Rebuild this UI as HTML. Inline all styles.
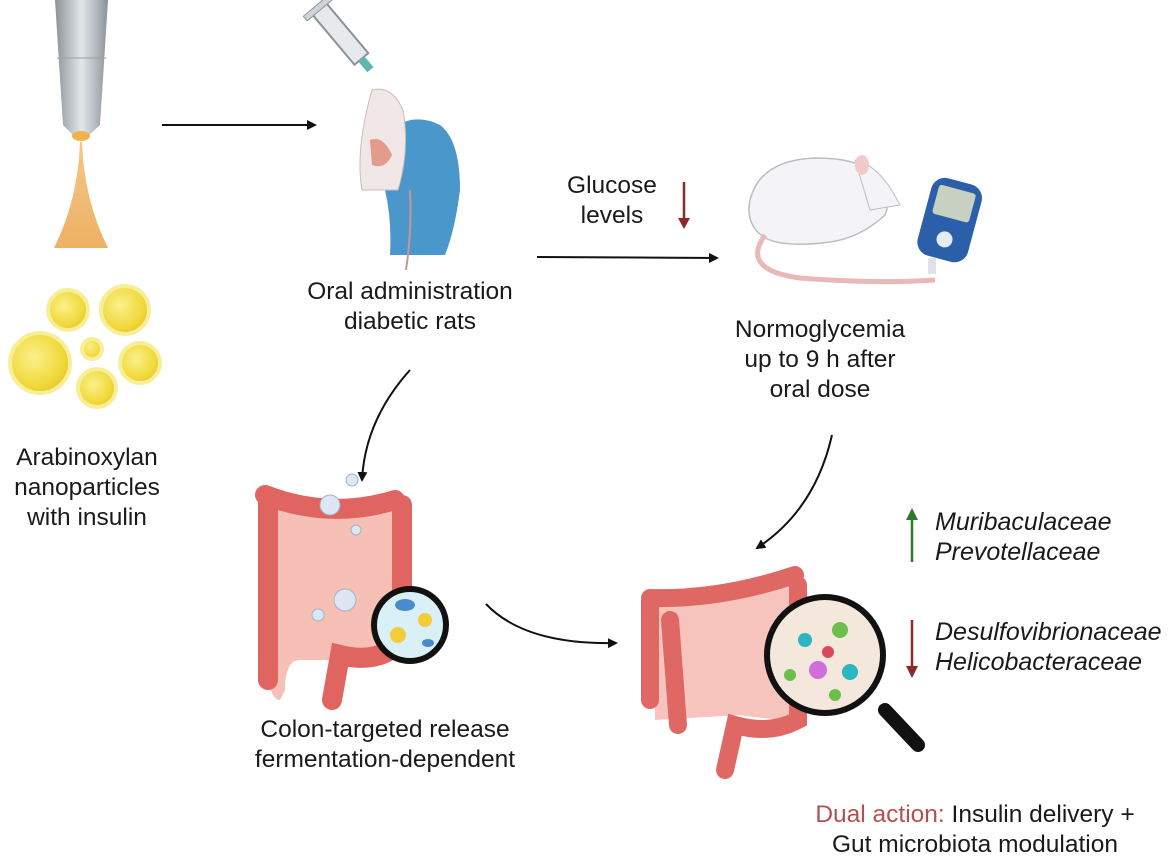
<!DOCTYPE html>
<html><head><meta charset="utf-8"><style>
html,body{margin:0;padding:0;background:#fff;}
body{width:1176px;height:860px;position:relative;overflow:hidden;font-family:"Liberation Sans",sans-serif;color:#1a1a1a;}
.t{position:absolute;font-size:24.5px;line-height:30px;text-align:center;white-space:nowrap;}
.i{position:absolute;font-size:25px;line-height:30px;font-style:italic;white-space:nowrap;}
svg{position:absolute;left:0;top:0;}
</style></head><body>
<svg width="1176" height="860" viewBox="0 0 1176 860">
<defs>
<marker id="ah" markerWidth="10" markerHeight="10" refX="8" refY="5" orient="auto" markerUnits="userSpaceOnUse"><path d="M0,0 L10,5 L0,10 z" fill="#111"/></marker>
<radialGradient id="yb" cx="0.4" cy="0.4" r="0.6"><stop offset="0" stop-color="#fbf08a"/><stop offset="0.8" stop-color="#f0d93a"/><stop offset="1" stop-color="#e9cc2a"/></radialGradient>
<linearGradient id="ndl" x1="0" x2="1"><stop offset="0" stop-color="#8a9299"/><stop offset="0.5" stop-color="#e3e7ea"/><stop offset="1" stop-color="#8a9299"/></linearGradient>
<linearGradient id="cone" x1="0" y1="0" x2="0" y2="1"><stop offset="0" stop-color="#f3c27a"/><stop offset="1" stop-color="#eba852"/></linearGradient>
</defs>
<path d="M55,0 L108,0 L100,125 L86,138 L76,138 L63,125 Z" fill="url(#ndl)"/>
<line x1="57" y1="58" x2="106" y2="58" stroke="#9aa1a7" stroke-width="1"/>
<ellipse cx="81" cy="136" rx="9" ry="5" fill="#f0b34a"/>
<path d="M80,142 L82,142 Q84,200 108,248 L54,248 Q78,200 80,142 Z" fill="url(#cone)" opacity="0.9"/>
<g fill="url(#yb)" stroke="#f7ee9a" stroke-width="4">
<circle cx="68" cy="310" r="20"/><circle cx="125" cy="310" r="24"/>
<circle cx="40" cy="363" r="30"/><circle cx="92" cy="349" r="10"/>
<circle cx="140" cy="363" r="20"/><circle cx="97" cy="388" r="19"/>
</g>
<line x1="162" y1="125" x2="315" y2="125" stroke="#111" stroke-width="2" marker-end="url(#ah)"/>
<line x1="537" y1="257" x2="717" y2="258" stroke="#111" stroke-width="2" marker-end="url(#ah)"/>
<path d="M410,370 Q365,420 362,480" fill="none" stroke="#111" stroke-width="2" marker-end="url(#ah)"/>
<path d="M832,435 Q815,510 757,548" fill="none" stroke="#111" stroke-width="2" marker-end="url(#ah)"/>
<path d="M486,604 Q525,645 616,643" fill="none" stroke="#111" stroke-width="2" marker-end="url(#ah)"/>
<line x1="684" y1="182" x2="684" y2="222" stroke="#8b2a2a" stroke-width="2.5"/><path d="M678,218 L690,218 L684,229 Z" fill="#8b2a2a"/>
<line x1="912" y1="620" x2="912" y2="670" stroke="#8b2a2a" stroke-width="2.5"/><path d="M906,666 L918,666 L912,678 Z" fill="#8b2a2a"/>
<line x1="912" y1="562" x2="912" y2="516" stroke="#2f7a2f" stroke-width="2.5"/><path d="M906,520 L918,520 L912,508 Z" fill="#2f7a2f"/>
<g transform="rotate(-40 330 20)"><rect x="320" y="5" width="18" height="65" fill="#e6eaec" stroke="#8b9296" stroke-width="2"/><rect x="312" y="0" width="34" height="6" fill="#cfd4d7" stroke="#8b9296"/><rect x="325" y="70" width="8" height="14" fill="#5db6b0"/></g>
<path d="M385,135 Q410,110 440,125 Q460,140 460,190 Q455,230 445,255 L390,255 Q392,220 385,190 Z" fill="#4a97cc"/>
<path d="M372,90 Q392,85 403,110 Q410,150 398,190 L362,190 Q355,150 372,90 Z" fill="#f1e7e6" stroke="#ccbcbb"/>
<path d="M370,140 Q383,135 392,155 Q385,170 372,165 Z" fill="#e49a8c"/>
<path d="M410,190 Q412,230 406,270" fill="none" stroke="#c99591" stroke-width="2"/>
<path d="M750,200 Q760,160 815,158 Q860,158 875,175 Q895,190 885,215 Q860,238 830,242 Q785,248 765,238 Q745,225 750,200 Z" fill="#f4f4f6" stroke="#b9bec4" stroke-width="1.5"/>
<path d="M855,160 Q880,165 900,205 L870,210 Z" fill="#f4f4f6" stroke="#b9bec4"/>
<ellipse cx="862" cy="165" rx="7" ry="10" fill="#f2c9cb"/>
<path d="M765,235 Q740,270 800,278 Q880,284 935,280" fill="none" stroke="#e9b9b8" stroke-width="5"/>
<g transform="rotate(15 950 215)"><rect x="925" y="180" width="52" height="80" rx="14" fill="#2c5fa9"/><rect x="932" y="188" width="38" height="30" rx="3" fill="#c7d1c1"/><circle cx="951" cy="240" r="8" fill="#e5ecf5"/></g>
<rect x="928" y="258" width="8" height="16" fill="#dfe3e8"/>
<g>
<path d="M272,498 Q330,515 385,500 Q405,500 408,530 L408,640 Q400,660 370,660 L300,660 Q285,660 285,690 L280,700 Q268,700 268,660 L268,510 Q268,495 272,498 Z" fill="#f6c0b7"/>
<path d="M265,495 Q330,520 395,500 M268,500 L268,680 M402,505 L402,640 Q380,665 340,655 L332,700" fill="none" stroke="#e06560" stroke-width="20" stroke-linecap="round"/>
<circle cx="330" cy="505" r="10" fill="#dde6f2" stroke="#a0b2c9"/><circle cx="352" cy="480" r="6" fill="#dde6f2" stroke="#a0b2c9"/><circle cx="356" cy="530" r="5" fill="#dde6f2" stroke="#a0b2c9"/><circle cx="345" cy="600" r="11" fill="#dde6f2" stroke="#a0b2c9"/><circle cx="318" cy="615" r="6" fill="#dde6f2" stroke="#a0b2c9"/>
<circle cx="410" cy="625" r="36" fill="#d9f0f6" stroke="#111" stroke-width="6"/>
<ellipse cx="405" cy="605" rx="10" ry="6" fill="#4a8bd0"/><circle cx="398" cy="635" r="8" fill="#f2cc3a"/><circle cx="425" cy="620" r="7" fill="#f2cc3a"/><ellipse cx="428" cy="643" rx="6" ry="4" fill="#4a8bd0"/>
</g>
<g>
<path d="M655,600 Q700,590 790,580 L800,640 L800,720 Q770,720 740,715 L655,720 Z" fill="#f6c4bc"/>
<path d="M650,598 Q720,600 795,575 M650,600 L650,700 M798,585 L798,720 Q770,735 735,725 L725,770 M670,620 L678,725" fill="none" stroke="#e06864" stroke-width="18" stroke-linecap="round"/>
<line x1="885" y1="710" x2="918" y2="745" stroke="#111" stroke-width="14" stroke-linecap="round"/>
<circle cx="825" cy="655" r="58" fill="#f4e8dc" stroke="#111" stroke-width="6"/>
<circle cx="805" cy="640" r="7" fill="#2bb6c0"/><circle cx="840" cy="630" r="8" fill="#6bbf4a"/><circle cx="818" cy="670" r="9" fill="#d26edc"/><circle cx="850" cy="672" r="8" fill="#2bb6c0"/><circle cx="790" cy="675" r="6" fill="#6bbf4a"/><circle cx="828" cy="652" r="6" fill="#d84c5a"/><circle cx="835" cy="695" r="6" fill="#6bbf4a"/>
</g>
</svg>
<div class="t" style="left:-10px;width:194px;top:443px;">Arabinoxylan<br>nanoparticles<br>with insulin</div>
<div class="t" style="left:290px;width:240px;top:277px;">Oral administration<br>diabetic rats</div>
<div class="t" style="left:552px;width:120px;top:171px;">Glucose<br>levels</div>
<div class="t" style="left:710px;width:220px;top:315px;">Normoglycemia<br>up to 9 h after<br>oral dose</div>
<div class="t" style="left:250px;width:270px;top:715px;">Colon-targeted release<br>fermentation-dependent</div>
<div class="i" style="left:935px;top:507px;">Muribaculaceae<br>Prevotellaceae</div>
<div class="i" style="left:935px;top:617px;">Desulfovibrionaceae<br>Helicobacteraceae</div>
<div class="t" style="left:790px;width:370px;top:800px;"><span style="color:#b5504f">Dual action:</span> Insulin delivery +<br>Gut microbiota modulation</div>
</body></html>
